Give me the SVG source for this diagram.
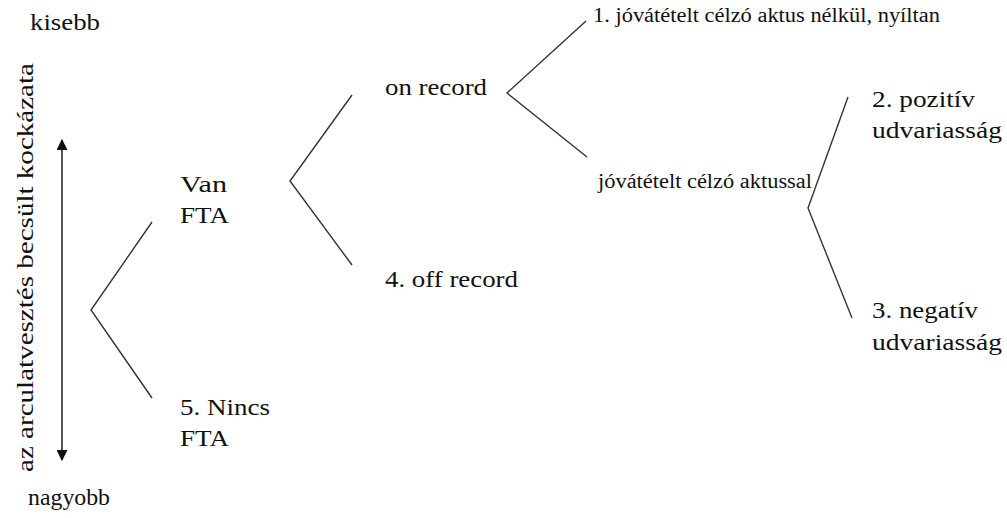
<svg xmlns="http://www.w3.org/2000/svg" width="1007" height="518" viewBox="0 0 1007 518">
<style>
text{font-family:"Times New Roman",Times,"Liberation Serif",Tinos,"Noto Serif","DejaVu Serif",serif;fill:#111;}
.m{font-size:24px;}
.s{font-size:20px;}
.ln{fill:none;stroke:#333;stroke-width:1.4;}
</style>
<defs>
<marker id="ah" viewBox="0 0 10 10" refX="9" refY="5" markerWidth="11" markerHeight="11" markerUnits="userSpaceOnUse" orient="auto-start-reverse">
<path d="M0,0 L10,5 L0,10 z" fill="#111"/>
</marker>
</defs>
<rect width="1007" height="518" fill="#fff"/>
<g id="axis">
<text id="kisebb" class="m" x="30" y="30" textLength="70" lengthAdjust="spacingAndGlyphs">kisebb</text>
<text id="nagyobb" class="m" x="28" y="505" textLength="82" lengthAdjust="spacingAndGlyphs">nagyobb</text>
<text id="kockazat" class="m" transform="translate(33,472) rotate(-90)" x="0" y="0" textLength="409" lengthAdjust="spacingAndGlyphs">az arculatvesztés becsült kockázata</text>
<line x1="62" y1="140" x2="62" y2="460" stroke="#111" stroke-width="1.4" marker-start="url(#ah)" marker-end="url(#ah)"/>
</g>
<g id="connectors">
<polyline class="ln" points="152,222 91,310 152,398"/>
<polyline class="ln" points="352,95 290,181 352,265"/>
<polyline class="ln" points="586,21 507,93 587,157"/>
<polyline class="ln" points="848,97 808,208 852,318"/>
</g>
<g id="van-fta">
<text class="m" x="180" y="192" textLength="47" lengthAdjust="spacingAndGlyphs">Van</text>
<text class="m" x="180" y="223" textLength="49" lengthAdjust="spacingAndGlyphs">FTA</text>
</g>
<g id="nincs-fta">
<text class="m" x="180" y="415" textLength="90" lengthAdjust="spacingAndGlyphs">5. Nincs</text>
<text class="m" x="180" y="446" textLength="49" lengthAdjust="spacingAndGlyphs">FTA</text>
</g>
<g id="on-record">
<text class="m" x="385" y="95" textLength="102" lengthAdjust="spacingAndGlyphs">on record</text>
</g>
<g id="off-record">
<text class="m" x="385" y="287" textLength="133" lengthAdjust="spacingAndGlyphs">4. off record</text>
</g>
<g id="nyiltan">
<text class="s" x="593" y="22" textLength="347" lengthAdjust="spacingAndGlyphs">1. jóvátételt célzó aktus nélkül, nyíltan</text>
</g>
<g id="aktussal">
<text class="s" x="598" y="188" textLength="214" lengthAdjust="spacingAndGlyphs">jóvátételt célzó aktussal</text>
</g>
<g id="pozitiv">
<text class="m" x="872" y="107" textLength="103" lengthAdjust="spacingAndGlyphs">2. pozitív</text>
<text class="m" x="872" y="138" textLength="130" lengthAdjust="spacingAndGlyphs">udvariasság</text>
</g>
<g id="negativ">
<text class="m" x="872" y="318" textLength="106" lengthAdjust="spacingAndGlyphs">3. negatív</text>
<text class="m" x="872" y="350" textLength="130" lengthAdjust="spacingAndGlyphs">udvariasság</text>
</g>
</svg>
